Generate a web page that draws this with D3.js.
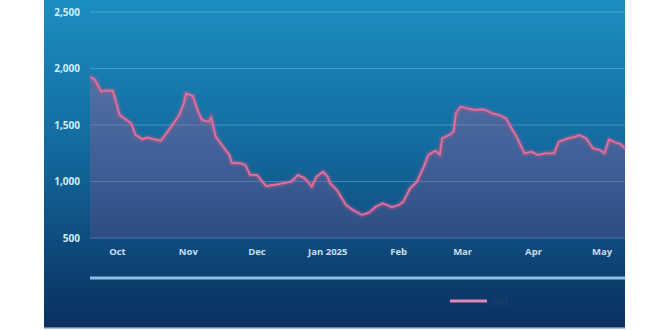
<!DOCTYPE html>
<html>
<head>
<meta charset="utf-8">
<script src="https://cdn.jsdelivr.net/npm/d3@7"></script>
<style>
  body { margin: 0; background: #fff; }
  svg { display: block; font-family: "Open Sans", "DejaVu Sans", sans-serif; }
</style>
</head>
<body>
<svg width="670" height="330"></svg>
<script>
// daily NO readings
var dates = [
  "2024-09-19","2024-09-21","2024-09-24","2024-09-26","2024-09-29","2024-10-02","2024-10-05","2024-10-07",
  "2024-10-09","2024-10-12","2024-10-14","2024-10-17","2024-10-20","2024-10-24","2024-10-28","2024-10-30",
  "2024-10-31","2024-11-03","2024-11-05","2024-11-07","2024-11-10","2024-11-11","2024-11-13","2024-11-16",
  "2024-11-19","2024-11-20","2024-11-24","2024-11-26","2024-11-28","2024-12-01","2024-12-05","2024-12-11",
  "2024-12-16","2024-12-19","2024-12-22","2024-12-25","2024-12-27","2024-12-30","2025-01-01","2025-01-02",
  "2025-01-05","2025-01-09","2025-01-12","2025-01-16","2025-01-19","2025-01-22","2025-01-25","2025-01-27",
  "2025-01-29","2025-02-01","2025-02-03","2025-02-06","2025-02-09","2025-02-12","2025-02-14","2025-02-17",
  "2025-02-19","2025-02-20","2025-02-23","2025-02-25","2025-02-26","2025-02-28","2025-03-03","2025-03-06",
  "2025-03-09","2025-03-11","2025-03-14","2025-03-17","2025-03-20","2025-03-22","2025-03-25","2025-03-28",
  "2025-03-31","2025-04-03","2025-04-06","2025-04-10","2025-04-12","2025-04-16","2025-04-19","2025-04-21",
  "2025-04-24","2025-04-27","2025-04-30","2025-05-02","2025-05-04","2025-05-07","2025-05-09","2025-05-11"
];
var values = [
  1927,1905,1795,1805,1805,1588,1544,1515,
  1411,1373,1391,1373,1361,1471,1588,1692,
  1780,1757,1633,1544,1530,1570,1396,1314,
  1235,1166,1161,1146,1058,1058,960,978,
  998,1058,1028,954,1042,1087,1042,985,
  924,792,748,704,724,777,807,792,
  772,792,821,940,998,1131,1235,1273,
  1235,1382,1411,1441,1603,1662,1648,1633,
  1639,1633,1603,1588,1559,1485,1382,1249,
  1264,1235,1249,1249,1352,1382,1396,1411,
  1382,1294,1279,1249,1373,1343,1332,1294
];
var yTicks = [500, 1000, 1500, 2000, 2500];
var monthTicks = ["2024-10-01","2024-11-01","2024-12-01","2025-01-01","2025-02-01","2025-03-01","2025-04-01","2025-05-01"];
var seriesName = "NO";

var parse = d3.timeParse("%Y-%m-%d");
var data = dates.map(function(d, i) { return { date: parse(d), value: values[i] }; });

var svg = d3.select("svg");

var defs = svg.append("defs");
var bg = defs.append("linearGradient").attr("id", "bg")
    .attr("x1", 0).attr("y1", 0).attr("x2", 0).attr("y2", 1);
bg.append("stop").attr("offset", "0%").attr("stop-color", "#1c8ec0");
bg.append("stop").attr("offset", "45%").attr("stop-color", "#136a9e");
bg.append("stop").attr("offset", "100%").attr("stop-color", "#0a2f5e");

var fill = defs.append("linearGradient").attr("id", "fill")
    .attr("x1", 0).attr("y1", 0).attr("x2", 0).attr("y2", 1);
fill.append("stop").attr("offset", "0%").attr("stop-color", "#c85890").attr("stop-opacity", 0.35);
fill.append("stop").attr("offset", "100%").attr("stop-color", "#70508e").attr("stop-opacity", 0.3);

var glow = defs.append("filter").attr("id", "glow");
glow.append("feGaussianBlur").attr("stdDeviation", 1.2);

// panel
svg.append("rect")
    .attr("x", 44).attr("y", 0)
    .attr("width", 581).attr("height", 328)
    .attr("fill", "url(#bg)");
svg.append("rect")
    .attr("x", 44).attr("y", 327)
    .attr("width", 581).attr("height", 1.5)
    .attr("fill", "#5a86b0");

var x = d3.scaleTime()
    .domain([parse("2024-09-19"), parse("2025-05-11")])
    .range([90, 625]);

var y = d3.scaleLinear()
    .domain([500, 2500])
    .range([238, 12]);

// grid lines
svg.append("g")
  .selectAll("line")
  .data(yTicks)
  .enter().append("line")
    .attr("x1", 90).attr("x2", 625)
    .attr("y1", function(d) { return y(d); })
    .attr("y2", function(d) { return y(d); })
    .attr("stroke", "#8fd0f0")
    .attr("stroke-opacity", 0.38)
    .attr("stroke-width", 1.2);

// y labels
svg.append("g")
  .selectAll("text")
  .data(yTicks)
  .enter().append("text")
    .attr("x", 80)
    .attr("y", function(d) { return y(d); })
    .attr("dy", "0.35em")
    .attr("text-anchor", "end")
    .attr("fill", "#cfeeff")
    .attr("font-size", 10)
    .attr("font-weight", "bold")
    .text(function(d) { return d3.format(",")(d); });

// x labels
svg.append("g")
  .selectAll("text")
  .data(monthTicks)
  .enter().append("text")
    .attr("x", function(d) { return x(parse(d)); })
    .attr("y", 255)
    .attr("text-anchor", "middle")
    .attr("fill", "#c9dff0")
    .attr("font-size", 9.5)
    .attr("font-weight", "bold")
    .text(function(d) {
      var t = parse(d);
      return t.getMonth() === 0 ? d3.timeFormat("%b %Y")(t) : d3.timeFormat("%b")(t);
    });

// area + line
var area = d3.area()
    .x(function(d) { return x(d.date); })
    .y0(y(500))
    .y1(function(d) { return y(d.value); });

var line = d3.line()
    .x(function(d) { return x(d.date); })
    .y(function(d) { return y(d.value); });

svg.append("path")
    .datum(data)
    .attr("d", area)
    .attr("fill", "url(#fill)");

svg.append("path")
    .datum(data)
    .attr("d", line)
    .attr("fill", "none")
    .attr("stroke", "#d85a8c")
    .attr("stroke-width", 4)
    .attr("stroke-opacity", 0.55)
    .attr("filter", "url(#glow)");

svg.append("path")
    .datum(data)
    .attr("d", line)
    .attr("fill", "none")
    .attr("stroke", "#e0709c")
    .attr("stroke-width", 1.8)
    .attr("stroke-linejoin", "round");

// scrollbar-ish rule
svg.append("line")
    .attr("x1", 90).attr("x2", 625)
    .attr("y1", 278).attr("y2", 278)
    .attr("stroke", "#8dbfe0")
    .attr("stroke-width", 3);

// legend
var legend = svg.append("g").attr("transform", "translate(450,301)");
legend.append("line")
    .attr("x1", 0).attr("x2", 37)
    .attr("stroke", "#d98ab8")
    .attr("stroke-width", 3);
legend.append("text")
    .attr("x", 42)
    .attr("dy", "0.35em")
    .attr("fill", "#1e3f6a")
    .attr("font-size", 10)
    .attr("font-weight", "bold")
    .text(seriesName);
</script>
</body>
</html>
